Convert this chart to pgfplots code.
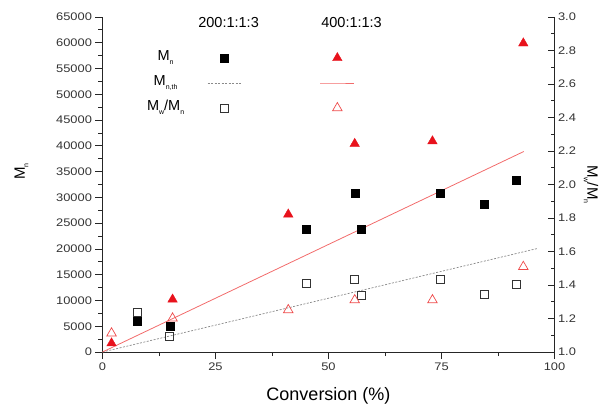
\documentclass[border=0pt]{standalone}
\usepackage{fontspec}
\setmainfont{Liberation Sans}
\newfontfamily\tickfont[FakeStretch=1.17]{Liberation Sans}
\usepackage{pgfplots}
\pgfplotsset{compat=1.18}
\definecolor{mred}{HTML}{E8121C}
\definecolor{lred}{HTML}{F26B6B}
\definecolor{ored}{HTML}{EE4A4A}
\definecolor{dgray}{HTML}{8A8A8A}
\newcommand{\sub}[1]{\raisebox{-3.5pt}{\fontsize{7}{8}\selectfont #1}}
\pgfplotsset{
  myimg/.style={legend image code/.code={\draw[mark repeat=2,mark phase=2,##1] plot coordinates {(0pt,0pt) (17pt,0pt) (34pt,0pt)};}},
  base/.style={width=452pt,height=335pt,scale only axis,xmin=0,xmax=100,clip=false,
    axis line style={line width=0.8pt,black!85},
    tick style={line width=0.8pt,black!85},
    major tick length=7pt, minor tick length=4pt,
    tick label style={font=\tickfont\fontsize{11}{13}\selectfont, text=black!80},
    /pgf/number format/assume math mode=true,
    legend style={draw=none, fill=none, inner sep=0pt, outer sep=0pt, row sep=9pt, column sep=23pt,
      font=\fontsize{14.5}{16}\selectfont, nodes={inner sep=0pt, text height=11pt, text depth=5pt}},
    legend cell align=center, legend plot pos=right,
  }
}
\begin{document}
\begin{tikzpicture}
\useasboundingbox (-102.5pt,-53pt) rectangle (502.5pt,352pt);
\begin{axis}[base,
  ymin=0, ymax=65000, ytick={0,5000,...,65000}, minor y tick num=1,
  xtick={0,25,50,75,100}, minor x tick num=1,
  axis x line*=bottom, axis y line*=left, tick align=outside,
  scaled y ticks=false, yticklabel style={/pgf/number format/1000 sep={}},
  xlabel={Conversion (\%)},
  xlabel style={at={(axis description cs:0.5,0)}, anchor=base, yshift=-48.7pt, font=\fontsize{18}{20}\selectfont},
  ylabel={M\sub{n}},
  every axis y label/.style={at={(axis description cs:-0.1715,0.539)}, anchor=base, rotate=90, font=\fontsize{15}{17}\selectfont},
  legend style={at={(axis description cs:0.0985,0.9015)}, anchor=north west},
]
\addlegendimage{only marks, mark=square*, black, mark size=4pt, myimg}
\addlegendentry{M\sub{n}}
\addlegendimage{dgray, line width=0.7pt, dash pattern=on 2pt off 1.5pt, myimg}
\addlegendentry{M\sub{n,th}}
\addlegendimage{only marks, mark=square, black!80, mark size=4pt, mark options={line width=0.8pt}, myimg}
\addlegendentry{M\sub{w}/M\sub{n}}

\addplot[forget plot, dgray, line width=0.7pt, dash pattern=on 2pt off 1.5pt] coordinates {(0,0) (96.3,20100)};
\addplot[forget plot, lred, line width=0.8pt] coordinates {(0,0) (93.2,38900)};
\addplot[forget plot, only marks, mark=square*, black, mark size=4pt] coordinates {
(7.7,6000) (14.9,5100) (45.1,23800) (55.8,30900) (57.3,23800) (74.7,30900) (84.4,28650) (91.5,33400)};
\addplot[forget plot, only marks, mark=triangle*, mred, mark size=5.5pt] coordinates {
(2.0,1700) (15.5,10200) (41.1,26700) (55.8,40400) (73.0,40900) (93.1,59900)};
\node[anchor=base, font=\fontsize{14.5}{16}\selectfont] at (axis description cs:0.279,0.969) {200:1:1:3};
\node[anchor=base, font=\fontsize{14.5}{16}\selectfont] at (axis description cs:0.551,0.969) {400:1:1:3};
\end{axis}
\begin{axis}[base,
  ymin=1, ymax=3, ytick={1.0,1.2,1.4,1.6,1.8,2.0,2.2,2.4,2.6,2.8,3.0}, minor y tick num=1,
  axis x line=none, axis y line*=right, tick align=inside,
  yticklabel style={/pgf/number format/.cd, fixed, fixed zerofill, precision=1},
  ylabel={M\sub{w}/M\sub{n}},
  every axis y label/.style={at={(axis description cs:1.073,0.5)}, anchor=base, rotate=-90, font=\fontsize{15}{17}\selectfont},
  legend style={at={(axis description cs:0.428,0.9015)}, anchor=north west},
]
\addlegendimage{only marks, mark=triangle*, mred, mark size=5.5pt, myimg}
\addlegendentry{}
\addlegendimage{lred, line width=0.8pt, myimg}
\addlegendentry{}
\addlegendimage{only marks, mark=triangle, ored, mark size=5.5pt, mark options={line width=0.7pt}, myimg}
\addlegendentry{}

\addplot[forget plot, only marks, mark=square, black!80, mark size=4pt, mark options={line width=0.8pt}] coordinates {
(7.7,1.235) (14.9,1.091) (45.1,1.41) (55.8,1.434) (57.3,1.336) (74.7,1.434) (84.4,1.346) (91.5,1.406)};
\addplot[forget plot, only marks, mark=triangle, ored, mark size=5.5pt, mark options={line width=0.7pt}] coordinates {
(2.0,1.112) (15.5,1.201) (41.1,1.251) (55.8,1.31) (73.0,1.31) (93.1,1.509)};
\end{axis}
\end{tikzpicture}
\end{document}
